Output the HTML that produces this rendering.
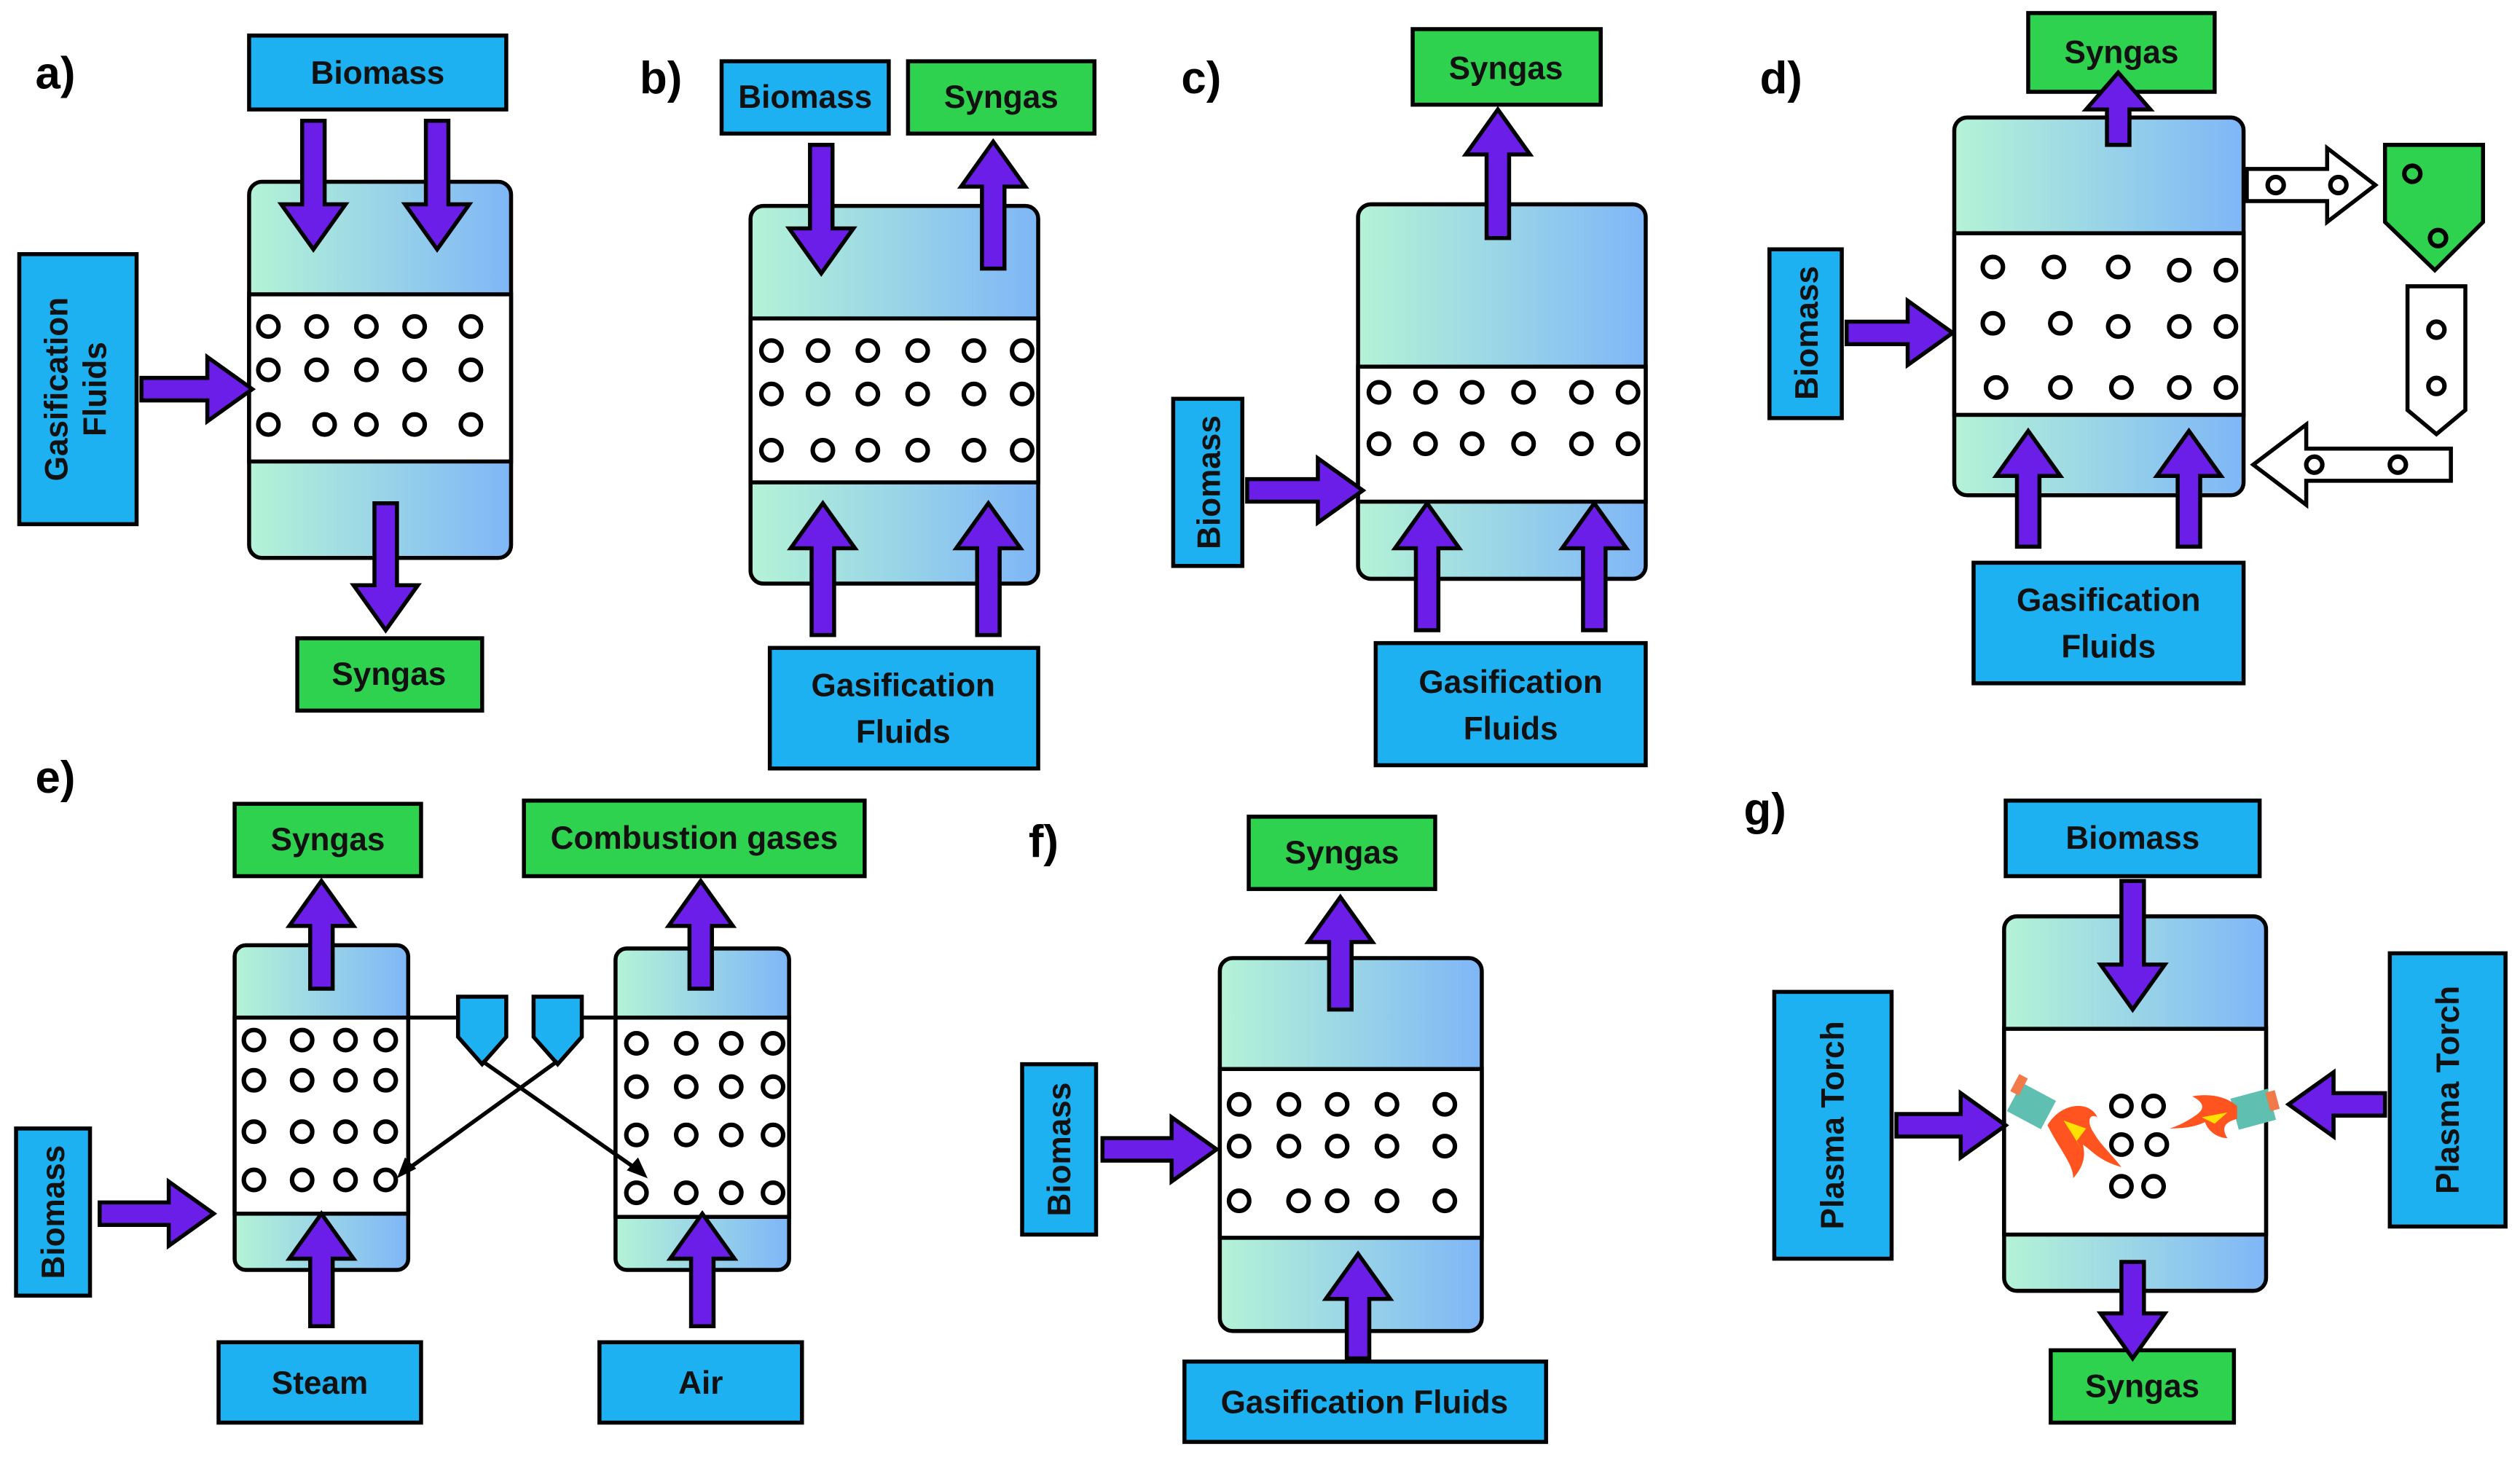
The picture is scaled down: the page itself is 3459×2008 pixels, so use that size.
<!DOCTYPE html>
<html><head><meta charset="utf-8"><style>
html,body{margin:0;padding:0;background:#fff}
svg{display:block}
text{font-family:"Liberation Sans",sans-serif;font-weight:bold}
</style></head><body>
<svg width="3459" height="2008" viewBox="0 0 1568 910" xmlns="http://www.w3.org/2000/svg">
<defs>
<linearGradient id="g" x1="0" y1="0" x2="1" y2="0"><stop offset="0" stop-color="#b4f3d6"/><stop offset="1" stop-color="#7fb6f7"/></linearGradient>
</defs>
<g stroke="#000" stroke-width="2.5">
<rect x="155" y="22" width="160" height="46" fill="#1db1f2"/>
<rect x="12" y="158" width="73" height="168" fill="#1db1f2"/>
<rect x="185" y="397" width="115" height="45" fill="#2fd24e"/>
<rect x="155" y="113" width="163" height="234" rx="8" fill="url(#g)"/>
<rect x="155" y="183" width="163" height="104" fill="#fff"/>
<rect x="449" y="38" width="104" height="45" fill="#1db1f2"/>
<rect x="565" y="38" width="116" height="45" fill="#2fd24e"/>
<rect x="479" y="403" width="167" height="75" fill="#1db1f2"/>
<rect x="467" y="128" width="179" height="235" rx="8" fill="url(#g)"/>
<rect x="467" y="198" width="179" height="102" fill="#fff"/>
<rect x="879" y="18" width="117" height="47" fill="#2fd24e"/>
<rect x="730" y="248" width="43" height="104" fill="#1db1f2"/>
<rect x="856" y="400" width="168" height="76" fill="#1db1f2"/>
<rect x="845" y="127" width="179" height="233" rx="8" fill="url(#g)"/>
<rect x="845" y="228" width="179" height="84" fill="#fff"/>
<rect x="1262" y="8" width="116" height="49" fill="#2fd24e"/>
<rect x="1101" y="155" width="45" height="105" fill="#1db1f2"/>
<rect x="1228" y="350" width="168" height="75" fill="#1db1f2"/>
<rect x="1216" y="73" width="180" height="235" rx="8" fill="url(#g)"/>
<rect x="1216" y="145" width="180" height="113" fill="#fff"/>
<polygon points="1398,105 1448,105 1448,92 1478,115 1448,138 1448,125 1398,125" fill="#fff"/>
<polygon points="1484,90 1545,90 1545,138 1515,168 1484,138" fill="#2fd24e"/>
<polygon points="1498,178 1534,178 1534,255 1516,270 1498,255" fill="#fff"/>
<polygon points="1525,279 1435,279 1435,264 1402,289 1435,314 1435,299 1525,299" fill="#fff"/>
<rect x="146" y="500" width="116" height="45" fill="#2fd24e"/>
<rect x="326" y="498" width="212" height="47" fill="#2fd24e"/>
<rect x="10" y="702" width="46" height="104" fill="#1db1f2"/>
<rect x="136" y="835" width="126" height="50" fill="#1db1f2"/>
<rect x="373" y="835" width="126" height="50" fill="#1db1f2"/>
<rect x="146" y="588" width="108" height="202" rx="7" fill="url(#g)"/>
<rect x="146" y="633" width="108" height="122" fill="#fff"/>
<rect x="383" y="590" width="108" height="200" rx="7" fill="url(#g)"/>
<rect x="383" y="633" width="108" height="124" fill="#fff"/>
<polygon points="285,620 315,620 315,645 300,662 285,645" fill="#1db1f2"/>
<polygon points="332,620 362,620 362,645 347,662 332,645" fill="#1db1f2"/>
<line x1="254" y1="633" x2="285" y2="633"/>
<line x1="362" y1="633" x2="383" y2="633"/>
<line x1="300" y1="660" x2="400" y2="730"/>
<line x1="347" y1="660" x2="250" y2="730"/>
<rect x="777" y="508" width="116" height="45" fill="#2fd24e"/>
<rect x="636" y="662" width="46" height="106" fill="#1db1f2"/>
<rect x="737" y="847" width="225" height="50" fill="#1db1f2"/>
<rect x="759" y="596" width="163" height="232" rx="8" fill="url(#g)"/>
<rect x="759" y="665" width="163" height="105" fill="#fff"/>
<rect x="1248" y="498" width="158" height="47" fill="#1db1f2"/>
<rect x="1104" y="617" width="73" height="166" fill="#1db1f2"/>
<rect x="1487" y="593" width="72" height="170" fill="#1db1f2"/>
<rect x="1276" y="840" width="114" height="45" fill="#2fd24e"/>
<rect x="1247" y="570" width="163" height="233" rx="8" fill="url(#g)"/>
<rect x="1247" y="640" width="163" height="128" fill="#fff"/>
</g>
<g fill="none" stroke="#000" stroke-width="2.8">
<circle cx="167" cy="203" r="6.3"/><circle cx="197" cy="203" r="6.3"/><circle cx="228" cy="203" r="6.3"/><circle cx="258" cy="203" r="6.3"/><circle cx="293" cy="203" r="6.3"/>
<circle cx="167" cy="230" r="6.3"/><circle cx="197" cy="230" r="6.3"/><circle cx="228" cy="230" r="6.3"/><circle cx="258" cy="230" r="6.3"/><circle cx="293" cy="230" r="6.3"/>
<circle cx="167" cy="264" r="6.3"/><circle cx="202" cy="264" r="6.3"/><circle cx="228" cy="264" r="6.3"/><circle cx="258" cy="264" r="6.3"/><circle cx="293" cy="264" r="6.3"/>
<circle cx="480" cy="218" r="6.3"/><circle cx="509" cy="218" r="6.3"/><circle cx="540" cy="218" r="6.3"/><circle cx="571" cy="218" r="6.3"/><circle cx="606" cy="218" r="6.3"/><circle cx="636" cy="218" r="6.3"/>
<circle cx="480" cy="245" r="6.3"/><circle cx="509" cy="245" r="6.3"/><circle cx="540" cy="245" r="6.3"/><circle cx="571" cy="245" r="6.3"/><circle cx="606" cy="245" r="6.3"/><circle cx="636" cy="245" r="6.3"/>
<circle cx="480" cy="280" r="6.3"/><circle cx="512" cy="280" r="6.3"/><circle cx="540" cy="280" r="6.3"/><circle cx="571" cy="280" r="6.3"/><circle cx="606" cy="280" r="6.3"/><circle cx="636" cy="280" r="6.3"/>
<circle cx="858" cy="244" r="6.3"/><circle cx="887" cy="244" r="6.3"/><circle cx="916" cy="244" r="6.3"/><circle cx="948" cy="244" r="6.3"/><circle cx="984" cy="244" r="6.3"/><circle cx="1013" cy="244" r="6.3"/>
<circle cx="858" cy="276" r="6.3"/><circle cx="887" cy="276" r="6.3"/><circle cx="916" cy="276" r="6.3"/><circle cx="948" cy="276" r="6.3"/><circle cx="984" cy="276" r="6.3"/><circle cx="1013" cy="276" r="6.3"/>
<circle cx="1240" cy="166" r="6.3"/><circle cx="1278" cy="166" r="6.3"/><circle cx="1318" cy="166" r="6.3"/><circle cx="1356" cy="168" r="6.3"/><circle cx="1385" cy="168" r="6.3"/>
<circle cx="1240" cy="201" r="6.3"/><circle cx="1282" cy="201" r="6.3"/><circle cx="1318" cy="203" r="6.3"/><circle cx="1356" cy="203" r="6.3"/><circle cx="1385" cy="203" r="6.3"/>
<circle cx="1242" cy="241" r="6.3"/><circle cx="1282" cy="241" r="6.3"/><circle cx="1320" cy="241" r="6.3"/><circle cx="1356" cy="241" r="6.3"/><circle cx="1385" cy="241" r="6.3"/>
<circle cx="1416" cy="115" r="5"/><circle cx="1455" cy="115" r="5"/>
<circle cx="1501" cy="108" r="5"/><circle cx="1517" cy="148" r="5"/>
<circle cx="1516" cy="205" r="5"/><circle cx="1516" cy="240" r="5"/>
<circle cx="1440" cy="289" r="5"/><circle cx="1492" cy="289" r="5"/>
<circle cx="158" cy="647" r="6.3"/><circle cx="188" cy="647" r="6.3"/><circle cx="215" cy="647" r="6.3"/><circle cx="240" cy="647" r="6.3"/>
<circle cx="158" cy="672" r="6.3"/><circle cx="188" cy="672" r="6.3"/><circle cx="215" cy="672" r="6.3"/><circle cx="240" cy="672" r="6.3"/>
<circle cx="158" cy="704" r="6.3"/><circle cx="188" cy="704" r="6.3"/><circle cx="215" cy="704" r="6.3"/><circle cx="240" cy="704" r="6.3"/>
<circle cx="158" cy="734" r="6.3"/><circle cx="188" cy="734" r="6.3"/><circle cx="215" cy="734" r="6.3"/><circle cx="240" cy="734" r="6.3"/>
<circle cx="396" cy="649" r="6.3"/><circle cx="427" cy="649" r="6.3"/><circle cx="455" cy="649" r="6.3"/><circle cx="481" cy="649" r="6.3"/>
<circle cx="396" cy="676" r="6.3"/><circle cx="427" cy="676" r="6.3"/><circle cx="455" cy="676" r="6.3"/><circle cx="481" cy="676" r="6.3"/>
<circle cx="396" cy="706" r="6.3"/><circle cx="427" cy="706" r="6.3"/><circle cx="455" cy="706" r="6.3"/><circle cx="481" cy="706" r="6.3"/>
<circle cx="396" cy="742" r="6.3"/><circle cx="427" cy="742" r="6.3"/><circle cx="455" cy="742" r="6.3"/><circle cx="481" cy="742" r="6.3"/>
<circle cx="771" cy="687" r="6.3"/><circle cx="802" cy="687" r="6.3"/><circle cx="832" cy="687" r="6.3"/><circle cx="863" cy="687" r="6.3"/><circle cx="899" cy="687" r="6.3"/>
<circle cx="771" cy="713" r="6.3"/><circle cx="802" cy="713" r="6.3"/><circle cx="832" cy="713" r="6.3"/><circle cx="863" cy="713" r="6.3"/><circle cx="899" cy="713" r="6.3"/>
<circle cx="771" cy="747" r="6.3"/><circle cx="808" cy="747" r="6.3"/><circle cx="832" cy="747" r="6.3"/><circle cx="863" cy="747" r="6.3"/><circle cx="899" cy="747" r="6.3"/>
<circle cx="1320" cy="688" r="6.3"/><circle cx="1340" cy="688" r="6.3"/><circle cx="1320" cy="712" r="6.3"/><circle cx="1342" cy="712" r="6.3"/><circle cx="1320" cy="738" r="6.3"/><circle cx="1340" cy="738" r="6.3"/>
</g>
<polygon points="403,733 390,728 397,720" fill="#000"/>
<polygon points="247,733 252,720 259,727" fill="#000"/>
<g>
<rect x="1252" y="678" width="24" height="20" fill="#5fbfb0" transform="rotate(28 1264 688)"/>
<rect x="1248" y="674" width="6" height="12" fill="#f07a4a" transform="rotate(28 1264 688)"/>
<path d="M1274,700 C1282,686 1300,684 1305,695 C1300,692 1298,698 1303,705 C1307,712 1312,716 1320,726 C1306,722 1302,716 1296,712 C1298,720 1296,726 1290,733 C1290,724 1282,716 1274,700 Z" fill="#ff5420"/>
<path d="M1284,697 L1298,702 L1292,710 L1296,716 Z" fill="#ffe000"/>
<rect x="1390" y="680" width="24" height="20" fill="#5fbfb0" transform="rotate(-15 1402 690)"/>
<rect x="1412" y="682" width="6" height="12" fill="#f07a4a" transform="rotate(-15 1402 690)"/>
<path d="M1392,688 C1385,682 1375,680 1364,682 C1372,686 1372,690 1366,694 C1360,698 1356,700 1350,702 C1362,702 1368,700 1372,698 C1374,704 1380,708 1386,708 C1382,702 1384,698 1392,696 Z" fill="#ff5420"/>
<path d="M1386,692 L1370,695 L1378,699 Z" fill="#ffe000"/>
</g>
<g fill="#6a1ee8" stroke="#000" stroke-width="2.5" stroke-linejoin="miter">
<polygon transform="translate(195,75) rotate(90)" points="0,-7 52,-7 52,-20 80,0 52,20 52,7 0,7"/>
<polygon transform="translate(272,75) rotate(90)" points="0,-7 52,-7 52,-20 80,0 52,20 52,7 0,7"/>
<polygon transform="translate(88,242) rotate(0)" points="0,-7 41,-7 41,-20 69,0 41,20 41,7 0,7"/>
<polygon transform="translate(240,313) rotate(90)" points="0,-7 51,-7 51,-20 79,0 51,20 51,7 0,7"/>
<polygon transform="translate(511,90) rotate(90)" points="0,-7 52,-7 52,-20 80,0 52,20 52,7 0,7"/>
<polygon transform="translate(618,167) rotate(-90)" points="0,-7 51,-7 51,-20 79,0 51,20 51,7 0,7"/>
<polygon transform="translate(512,395) rotate(-90)" points="0,-7 54,-7 54,-20 82,0 54,20 54,7 0,7"/>
<polygon transform="translate(615,395) rotate(-90)" points="0,-7 54,-7 54,-20 82,0 54,20 54,7 0,7"/>
<polygon transform="translate(932,148) rotate(-90)" points="0,-7 52,-7 52,-20 80,0 52,20 52,7 0,7"/>
<polygon transform="translate(776,305) rotate(0)" points="0,-7 44,-7 44,-20 72,0 44,20 44,7 0,7"/>
<polygon transform="translate(888,392) rotate(-90)" points="0,-7 51,-7 51,-20 79,0 51,20 51,7 0,7"/>
<polygon transform="translate(992,392) rotate(-90)" points="0,-7 51,-7 51,-20 79,0 51,20 51,7 0,7"/>
<polygon transform="translate(1318,90) rotate(-90)" points="0,-7 22,-7 22,-20 45,0 22,20 22,7 0,7"/>
<polygon transform="translate(1149,207) rotate(0)" points="0,-7 38,-7 38,-20 66,0 38,20 38,7 0,7"/>
<polygon transform="translate(1262,340) rotate(-90)" points="0,-7 44,-7 44,-20 72,0 44,20 44,7 0,7"/>
<polygon transform="translate(1362,340) rotate(-90)" points="0,-7 44,-7 44,-20 72,0 44,20 44,7 0,7"/>
<polygon transform="translate(200,615) rotate(-90)" points="0,-7 39,-7 39,-20 67,0 39,20 39,7 0,7"/>
<polygon transform="translate(436,615) rotate(-90)" points="0,-7 39,-7 39,-20 67,0 39,20 39,7 0,7"/>
<polygon transform="translate(62,755) rotate(0)" points="0,-7 43,-7 43,-20 71,0 43,20 43,7 0,7"/>
<polygon transform="translate(200,825) rotate(-90)" points="0,-7 42,-7 42,-20 70,0 42,20 42,7 0,7"/>
<polygon transform="translate(437,825) rotate(-90)" points="0,-7 42,-7 42,-20 70,0 42,20 42,7 0,7"/>
<polygon transform="translate(834,628) rotate(-90)" points="0,-7 42,-7 42,-20 70,0 42,20 42,7 0,7"/>
<polygon transform="translate(686,715) rotate(0)" points="0,-7 43,-7 43,-20 71,0 43,20 43,7 0,7"/>
<polygon transform="translate(845,845) rotate(-90)" points="0,-7 37,-7 37,-20 65,0 37,20 37,7 0,7"/>
<polygon transform="translate(1327,548) rotate(90)" points="0,-7 52,-7 52,-20 80,0 52,20 52,7 0,7"/>
<polygon transform="translate(1180,700) rotate(0)" points="0,-7 40,-7 40,-20 68,0 40,20 40,7 0,7"/>
<polygon transform="translate(1484,687) rotate(180)" points="0,-7 32,-7 32,-20 60,0 32,20 32,7 0,7"/>
<polygon transform="translate(1327,785) rotate(90)" points="0,-7 32,-7 32,-20 60,0 32,20 32,7 0,7"/>
</g>
<g font-size="20" text-anchor="middle" fill="#111">
<text x="235" y="52">Biomass</text>
<text x="242" y="426">Syngas</text>
<text transform="translate(42,242) rotate(-90)">Gasification</text>
<text transform="translate(66,242) rotate(-90)">Fluids</text>
<text x="501" y="67">Biomass</text>
<text x="623" y="67">Syngas</text>
<text x="562" y="433">Gasification</text>
<text x="562" y="462">Fluids</text>
<text x="937" y="49">Syngas</text>
<text transform="translate(759,300) rotate(-90)">Biomass</text>
<text x="940" y="431">Gasification</text>
<text x="940" y="460">Fluids</text>
<text x="1320" y="39">Syngas</text>
<text transform="translate(1131,207) rotate(-90)">Biomass</text>
<text x="1312" y="380">Gasification</text>
<text x="1312" y="409">Fluids</text>
<text x="204" y="529">Syngas</text>
<text x="432" y="528">Combustion gases</text>
<text transform="translate(40,754) rotate(-90)">Biomass</text>
<text x="199" y="867">Steam</text>
<text x="436" y="867">Air</text>
<text x="835" y="537">Syngas</text>
<text transform="translate(666,715) rotate(-90)">Biomass</text>
<text x="849" y="879">Gasification Fluids</text>
<text x="1327" y="528">Biomass</text>
<text transform="translate(1147,700) rotate(-90)">Plasma Torch</text>
<text transform="translate(1530,678) rotate(-90)">Plasma Torch</text>
<text x="1333" y="869">Syngas</text>
</g>
<g font-size="28" fill="#000">
<text x="22" y="55">a)</text>
<text x="398" y="58">b)</text>
<text x="735" y="58">c)</text>
<text x="1095" y="58">d)</text>
<text x="22" y="493">e)</text>
<text x="640" y="533">f)</text>
<text x="1085" y="513">g)</text>
</g>
</svg>
</body></html>
